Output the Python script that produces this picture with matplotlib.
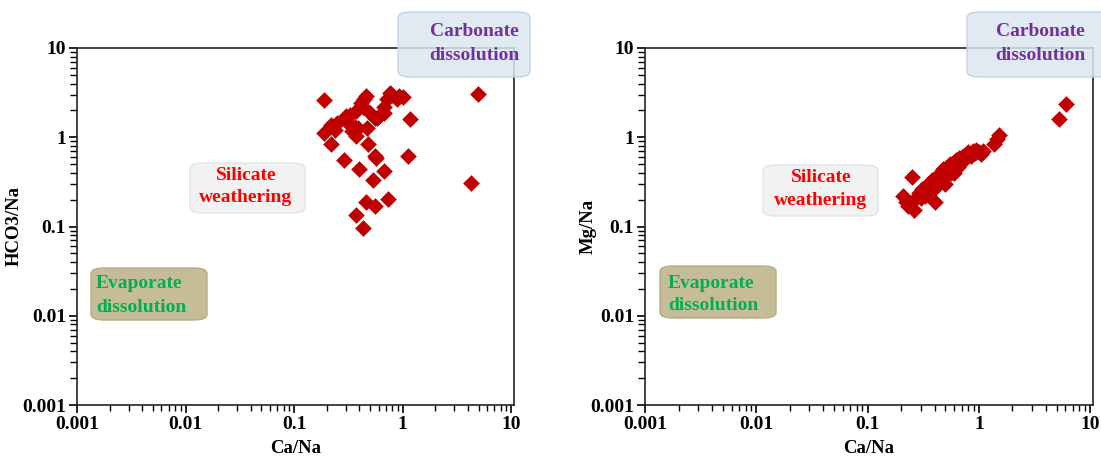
import matplotlib.pyplot as plt
from matplotlib.patches import FancyBboxPatch
from matplotlib.ticker import LogLocator, FixedLocator, FixedFormatter, NullFormatter

# left panel: Ca/Na vs HCO3/Na
ca_na_1 = [0.187, 4.96, 4.28, 1.16, 1.12, 0.22, 0.29, 0.40, 0.48, 0.55, 0.57, 0.67, 0.53,
           0.46, 0.56, 0.74, 0.375, 0.43, 0.19, 0.22, 0.25, 0.30, 0.33, 0.34, 0.37, 0.39,
           0.44, 0.46, 0.43, 0.50, 0.55, 0.61, 0.67, 0.71, 0.77, 0.89, 0.92, 0.67, 0.37,
           0.31, 0.24, 0.36, 0.41, 0.47, 0.58, 0.80, 1.0]
hco3_na = [2.6, 3.05, 0.31, 1.6, 0.62, 0.83, 0.56, 0.44, 0.83, 0.62, 0.58, 0.42, 0.336,
           0.19, 0.17, 0.204, 0.136, 0.097, 1.12, 1.38, 1.43, 1.72, 1.79, 1.17, 1.02, 1.27,
           2.65, 2.9, 2.2, 1.85, 1.65, 1.72, 2.2, 2.65, 3.16, 2.65, 2.9, 1.85, 1.95,
           1.5, 1.2, 1.3, 2.4, 1.26, 1.63, 3.0, 2.85]

# right panel: Ca/Na vs Mg/Na
ca_na_2 = [0.21, 0.22, 0.23, 0.25, 0.26, 0.26, 0.29, 0.31, 0.33, 0.35, 0.37, 0.38, 0.40,
           0.42, 0.40, 0.44, 0.45, 0.47, 0.48, 0.50, 0.52, 0.53, 0.55, 0.57, 0.58, 0.60,
           0.62, 0.64, 0.66, 0.68, 0.70, 0.73, 0.75, 0.78, 0.80, 0.85, 0.88, 0.92, 0.95,
           1.0, 1.05, 1.1, 1.38, 1.45, 1.52, 5.2, 6.1, 0.34, 0.46, 0.56, 0.65, 0.5, 0.3]
mg_na = [0.22, 0.19, 0.17, 0.36, 0.155, 0.20, 0.24, 0.26, 0.22, 0.30, 0.28, 0.33, 0.27,
         0.35, 0.19, 0.31, 0.40, 0.36, 0.44, 0.38, 0.47, 0.42, 0.50, 0.45, 0.52, 0.40,
         0.55, 0.50, 0.58, 0.53, 0.60, 0.56, 0.64, 0.60, 0.68, 0.62, 0.70, 0.66, 0.72,
         0.68, 0.65, 0.70, 0.85, 0.95, 1.05, 1.6, 2.35, 0.24, 0.33, 0.40, 0.46, 0.30, 0.21]

tick_vals = [0.001, 0.01, 0.1, 1, 10]
tick_text = ['0.001', '0.01', '0.1', '1', '10']

serif = ['Liberation Serif', 'DejaVu Serif']
plt.rcParams['font.family'] = serif
plt.rcParams['font.weight'] = 'bold'

W, H = 1101, 459
fig = plt.figure(figsize=(W / 100, H / 100), dpi=100)


def px_box(x0, y0, x1, y1, face, edge, alpha=1.0):
    # box given in pixel coords of the picture (y from top)
    p = FancyBboxPatch((x0 / W, 1 - y1 / H), (x1 - x0) / W, (y1 - y0) / H,
                       boxstyle='round,pad=0,rounding_size=0.012',
                       transform=fig.transFigure, facecolor=face, edgecolor=edge,
                       linewidth=1, alpha=alpha, zorder=10)
    fig.add_artist(p)


def px_text(x, y, lines, color, ha='center', gap=23):
    for i, s in enumerate(lines):
        fig.text(x / W, 1 - (y + i * gap) / H, s, color=color, ha=ha, va='center',
                 fontsize=14, fontweight='bold', zorder=11)


def setup(ax, ylabel, label_x):
    ax.set_xscale('log')
    ax.set_yscale('log')
    ax.set_xlim(0.001, 10.6)
    ax.set_ylim(0.001, 10)
    for a in (ax.xaxis, ax.yaxis):
        a.set_major_locator(FixedLocator(tick_vals))
        a.set_major_formatter(FixedFormatter(tick_text))
        a.set_minor_locator(LogLocator(base=10, subs=range(2, 10)))
        a.set_minor_formatter(NullFormatter())
    ax.tick_params(which='major', direction='out', length=6, width=1.2, labelsize=14, pad=2)
    ax.tick_params(which='minor', direction='out', length=4, width=1)
    ax.tick_params(axis='y', which='minor', length=5)
    for lab in ax.get_xticklabels() + ax.get_yticklabels():
        lab.set_fontweight('bold')
    for sp in ax.spines.values():
        sp.set_linewidth(1.2)
        sp.set_color('#222222')
    ax.set_xlabel('Ca/Na', fontsize=13.5, fontweight='bold', labelpad=5)
    ax.set_ylabel(ylabel, fontsize=13.5, fontweight='bold')
    ax.yaxis.set_label_coords(label_x, 0.5)


ax1 = fig.add_axes([77 / W, 1 - 405 / H, (514 - 77) / W, (405 - 48) / H])
ax1.scatter(ca_na_1, hco3_na, marker='D', s=72, color='#C00000', linewidths=0, zorder=3)
setup(ax1, 'HCO3/Na', -0.125)

ax2 = fig.add_axes([645 / W, 1 - 405 / H, (1093 - 645) / W, (405 - 48) / H])
ax2.scatter(ca_na_2, mg_na, marker='D', s=72, color='#C00000', linewidths=0, zorder=3)
setup(ax2, 'Mg/Na', -0.107)

# process labels
px_box(398, 12, 530, 77, '#DCE6F2', '#B9CDE5', alpha=0.85)
px_text(474, 32, ['Carbonate', 'dissolution'], '#7030A0')
px_box(190, 163, 305, 213, '#F2F2F2', '#E4E4E4')
px_text(246, 176, ['Silicate', 'weathering'], '#FF0000', gap=22)
px_box(91, 268, 207, 320, '#C4BD97', '#B5AD85')
px_text(96, 284, ['Evaporate', 'dissolution'], '#00B050', ha='left')

px_box(967, 12, 1110, 77, '#DCE6F2', '#B9CDE5', alpha=0.85)
px_text(1040, 32, ['Carbonate', 'dissolution'], '#7030A0')
px_box(763, 165, 878, 216, '#F2F2F2', '#E4E4E4')
px_text(821, 178, ['Silicate', 'weathering'], '#FF0000', gap=22)
px_box(660, 266, 776, 318, '#C4BD97', '#B5AD85')
px_text(668, 283, ['Evaporate', 'dissolution'], '#00B050', ha='left')

fig.savefig('out.png', dpi=100)
